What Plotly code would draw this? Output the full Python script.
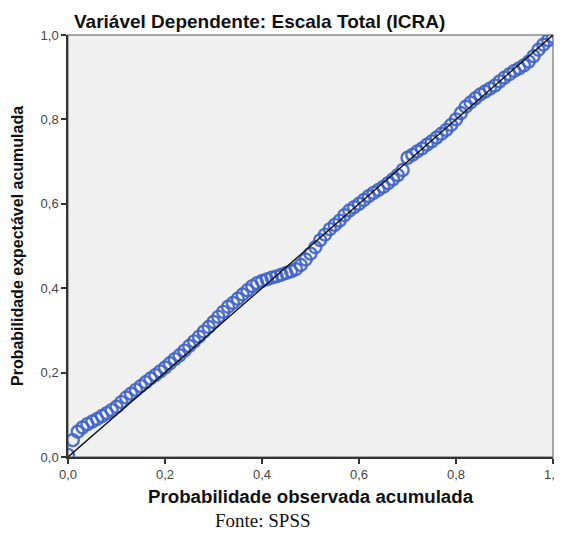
import plotly.graph_objects as go

# Observed cumulative probability (x) and expected cumulative probability (y)
observed = [
    0.00, 0.01, 0.02, 0.03, 0.04, 0.05, 0.06, 0.07, 0.08, 0.09,
    0.10, 0.11, 0.12, 0.13, 0.14, 0.15, 0.16, 0.17, 0.18, 0.19,
    0.20, 0.21, 0.22, 0.23, 0.24, 0.25, 0.26, 0.27, 0.28, 0.29,
    0.30, 0.31, 0.32, 0.33, 0.34, 0.35, 0.36, 0.37, 0.38, 0.39,
    0.40, 0.41, 0.42, 0.43, 0.44, 0.45, 0.46, 0.47, 0.48, 0.49,
    0.50, 0.51, 0.52, 0.53, 0.54, 0.55, 0.56, 0.57, 0.58, 0.59,
    0.60, 0.61, 0.62, 0.63, 0.64, 0.65, 0.66, 0.67, 0.68, 0.69,
    0.70, 0.71, 0.72, 0.73, 0.74, 0.75, 0.76, 0.77, 0.78, 0.79,
    0.80, 0.81, 0.82, 0.83, 0.84, 0.85, 0.86, 0.87, 0.88, 0.89,
    0.90, 0.91, 0.92, 0.93, 0.94, 0.95, 0.96, 0.97, 0.98, 0.99,
    1.00,
]
expected = [
    0.005, 0.040, 0.060, 0.070, 0.078, 0.084, 0.090, 0.097, 0.104, 0.111,
    0.119, 0.130, 0.141, 0.150, 0.159, 0.168, 0.177, 0.186, 0.194, 0.203,
    0.212, 0.222, 0.232, 0.241, 0.252, 0.263, 0.274, 0.285, 0.297, 0.308,
    0.320, 0.332, 0.344, 0.356, 0.365, 0.375, 0.385, 0.395, 0.405, 0.412,
    0.417, 0.421, 0.425, 0.428, 0.432, 0.436, 0.440, 0.445, 0.455, 0.468,
    0.482, 0.497, 0.514, 0.527, 0.540, 0.550, 0.560, 0.573, 0.584, 0.592,
    0.600, 0.609, 0.618, 0.626, 0.633, 0.640, 0.649, 0.658, 0.668, 0.680,
    0.709, 0.716, 0.724, 0.731, 0.740, 0.748, 0.757, 0.766, 0.775, 0.787,
    0.800, 0.815, 0.830, 0.840, 0.850, 0.859, 0.866, 0.873, 0.880, 0.890,
    0.899, 0.907, 0.915, 0.921, 0.928, 0.937, 0.950, 0.965, 0.977, 0.988,
    0.996,
]
diag = [0.0, 1.0]
tick_vals = [0.0, 0.2, 0.4, 0.6, 0.8, 1.0]

title_text = "Variável Dependente: Escala Total (ICRA)"
x_title = "Probabilidade observada acumulada"
y_title = "Probabilidade expectável acumulada"
source_text = "Fonte: SPSS"

BLUE = "rgba(62,98,198,0.9)"

fig = go.Figure()
fig.add_trace(go.Scatter(
    x=observed, y=expected, mode="markers",
    marker=dict(symbol="circle-open", size=12, color=BLUE,
                line=dict(width=2.4, color=BLUE)),
    hoverinfo="skip", showlegend=False,
))
fig.add_trace(go.Scatter(
    x=diag, y=diag, mode="lines",
    line=dict(color="#111111", width=1.4),
    hoverinfo="skip", showlegend=False,
))

# top/right gray frame
fig.add_shape(type="rect", xref="paper", yref="paper", x0=0, y0=0, x1=1, y1=1,
              line=dict(color="#8a8a8a", width=1.5), layer="below")

axis_common = dict(
    range=[0, 1], tickvals=tick_vals, tickformat=".1f",
    showgrid=False, zeroline=False, automargin=False,
    ticklabeloverflow="allow",
    showline=True, linecolor="#333333", linewidth=1.5,
    ticks="outside", ticklen=5, tickwidth=1.5, tickcolor="#333333",
    tickfont=dict(family="Liberation Sans, Arial", size=13, color="#444444"),
)

# page body has an 8px default margin, so the figure is shrunk and shifted
fig.update_layout(
    width=555, height=525,
    margin=dict(l=60, r=10, t=27, b=76),
    paper_bgcolor="white", plot_bgcolor="#f0f0f0",
    separators=",.",
    xaxis=axis_common,
    yaxis=axis_common,
    annotations=[
        dict(text=f"<b>{title_text}</b>", xref="paper", yref="paper", x=0.008, y=1.0,
             xanchor="left", yanchor="bottom", yshift=1, showarrow=False,
             font=dict(family="Liberation Sans, Arial", size=19, color="#111111")),
        dict(text=f"<b>{x_title}</b>", xref="paper", yref="paper", x=0.5, y=0,
             xanchor="center", yanchor="middle", yshift=-39, showarrow=False,
             font=dict(family="Liberation Sans, Arial", size=18.7, color="#111111")),
        dict(text=f"<b>{y_title}</b>", xref="paper", yref="paper", x=0, y=0.5,
             xanchor="center", yanchor="middle", xshift=-51, textangle=-90,
             showarrow=False,
             font=dict(family="Liberation Sans, Arial", size=16, color="#111111")),
        dict(text=source_text, xref="paper", yref="paper", x=0.402, y=0,
             xanchor="center", yanchor="top", yshift=-51, showarrow=False,
             font=dict(family="Liberation Serif, Times New Roman", size=19, color="#111111")),
    ],
)

fig.write_html("out.html")
